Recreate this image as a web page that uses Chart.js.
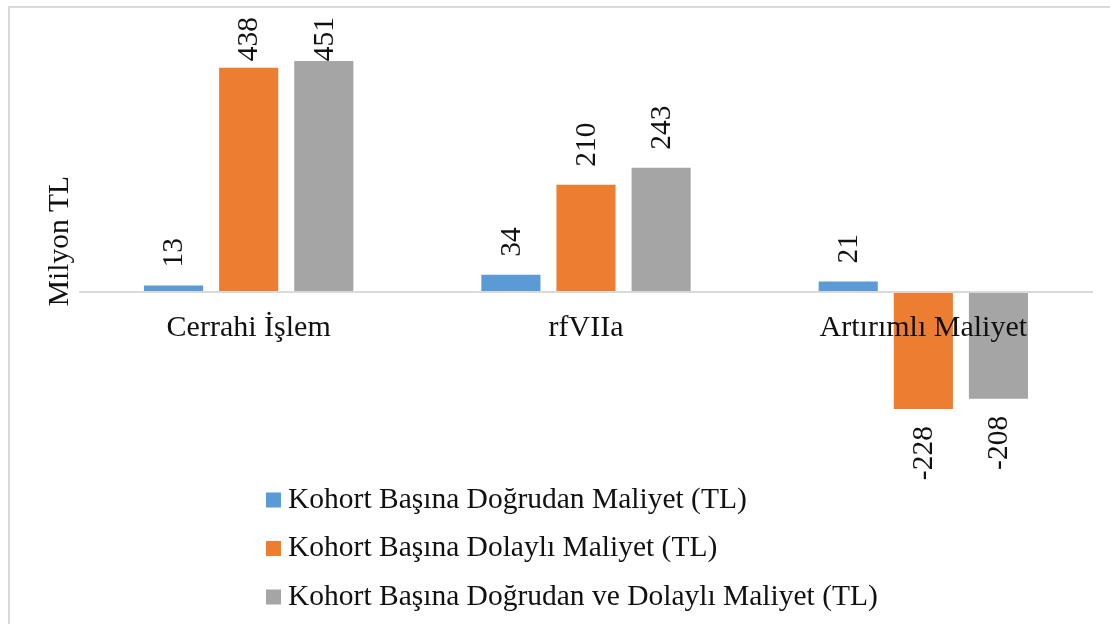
<!DOCTYPE html>
<html>
<head>
<meta charset="utf-8">
<title>Kohort Başına Maliyet</title>
<script src="https://cdn.jsdelivr.net/npm/chart.js@4.4.1/dist/chart.umd.min.js"></script>
<style>
    html, body { margin: 0; padding: 0; background: #fff; overflow: hidden; }
    #wrap { width: 1110px; height: 624px; position: relative; }
</style>
</head>
<body>
<div id="wrap"><canvas id="cost-chart"></canvas></div>
<script>
    const categories = ['Cerrahi İşlem', 'rfVIIa', 'Artırımlı Maliyet'];
    const seriesNames = [
        'Kohort Başına Doğrudan Maliyet (TL)',
        'Kohort Başına Dolaylı Maliyet (TL)',
        'Kohort Başına Doğrudan ve Dolaylı Maliyet (TL)'
    ];
    const directCost = [13, 34, 21];
    const indirectCost = [438, 210, -228];
    const totalCost = [451, 243, -208];
    const seriesColors = ['#5B9BD5', '#ED7D31', '#A5A5A5'];

    const FONT = '"Liberation Serif", "Times New Roman", serif';
    const TEXT = '#111111';
    const SIZE = 29.5;

    // light grey frame round the whole chart
    const framePlugin = {
        id: 'frame',
        beforeDraw: function (chart) {
            let ctx = chart.ctx;
            ctx.save();
            ctx.fillStyle = '#ffffff';
            ctx.fillRect(0, 0, chart.width, chart.height);
            ctx.strokeStyle = '#d9d9d9';
            ctx.lineWidth = 2;
            ctx.strokeRect(9, 7, chart.width + 50, chart.height + 50);
            ctx.restore();
        }
    };

    // rotated value labels above / below each bar
    const valueLabelPlugin = {
        id: 'valueLabels',
        afterDatasetsDraw: function (chart) {
            let ctx = chart.ctx;
            ctx.save();
            ctx.font = SIZE + 'px ' + FONT;
            ctx.fillStyle = TEXT;
            ctx.textBaseline = 'middle';
            chart.data.datasets.forEach(function (ds, di) {
                let meta = chart.getDatasetMeta(di);
                meta.data.forEach(function (bar, i) {
                    let value = ds.data[i];
                    let text = String(value);
                    let w = ctx.measureText(text).width;
                    let y;
                    ctx.save();
                    if (value >= 0) {
                        y = Math.max(bar.y - 18, 17 + w);
                        ctx.translate(bar.x + 1, y);
                        ctx.rotate(-Math.PI / 2);
                        ctx.textAlign = 'left';
                    } else {
                        y = bar.y + 17;
                        ctx.translate(bar.x + 1, y);
                        ctx.rotate(-Math.PI / 2);
                        ctx.textAlign = 'right';
                    }
                    ctx.fillText(text, 0, 0);
                    ctx.restore();
                });
            });
            ctx.restore();
        }
    };

    // vertical legend, left aligned, under the plot
    const legendPlugin = {
        id: 'stackedLegend',
        afterDraw: function (chart) {
            let ctx = chart.ctx;
            let rowY = [500, 548.5, 597];
            ctx.save();
            ctx.font = SIZE + 'px ' + FONT;
            ctx.textBaseline = 'middle';
            ctx.textAlign = 'left';
            chart.data.datasets.forEach(function (ds, i) {
                ctx.fillStyle = ds.backgroundColor;
                ctx.fillRect(266, rowY[i] - 7.5, 15, 15);
                ctx.fillStyle = TEXT;
                ctx.fillText(ds.label, 288, rowY[i]);
            });
            ctx.restore();
        }
    };

    const ctx = document.getElementById('cost-chart');
    new Chart(ctx, {
        type: 'bar',
        data: {
            labels: categories,
            datasets: [
                { label: seriesNames[0], data: directCost, backgroundColor: seriesColors[0] },
                { label: seriesNames[1], data: indirectCost, backgroundColor: seriesColors[1] },
                { label: seriesNames[2], data: totalCost, backgroundColor: seriesColors[2] }
            ]
        },
        options: {
            responsive: true,
            maintainAspectRatio: false,
            animation: false,
            categoryPercentage: 0.668,
            barPercentage: 0.787,
            layout: {
                padding: { left: 0, right: 18, top: 36, bottom: 178 }
            },
            plugins: {
                legend: { display: false },
                tooltip: { enabled: false },
                title: { display: false }
            },
            scales: {
                x: {
                    position: { y: 0 },
                    grid: { display: false, drawTicks: false },
                    border: { display: true, color: '#d9d9d9', width: 2, z: 1 },
                    ticks: {
                        z: 2,
                        padding: 18,
                        color: TEXT,
                        maxRotation: 0,
                        autoSkip: false,
                        font: { family: FONT, size: 30 }
                    }
                },
                y: {
                    min: -300,
                    max: 500,
                    grid: { display: false, drawTicks: false },
                    border: { display: false },
                    ticks: { display: false },
                    title: {
                        display: true,
                        text: 'Milyon TL',
                        color: TEXT,
                        padding: { top: 43, bottom: 0 },
                        font: { family: FONT, size: SIZE }
                    },
                    afterFit: function (scale) {
                        scale.width = 80;
                    }
                }
            }
        },
        plugins: [framePlugin, valueLabelPlugin, legendPlugin]
    });
</script>
</body>
</html>
